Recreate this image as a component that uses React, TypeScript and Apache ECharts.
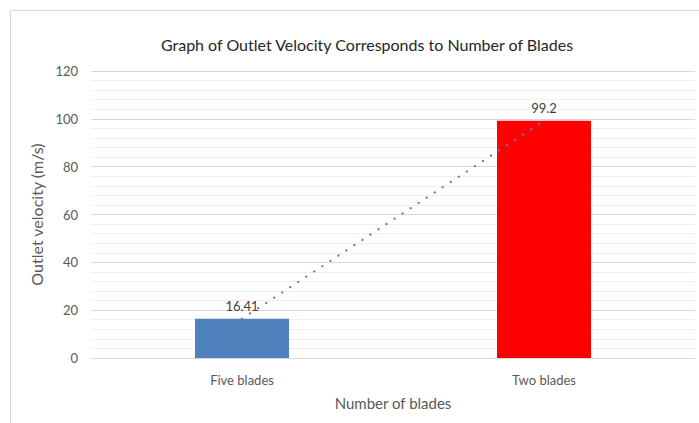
import React, { useEffect, useRef } from "react";
import * as echarts from "echarts";

const categories = ["Five blades", "Two blades"];
const velocities = [16.41, 99.2];
const barColors = ["#4F81BD", "#FF0000"];
const titleText = "Graph of Outlet Velocity Corresponds to Number of Blades";
const yAxisName = "Outlet velocity (m/s)";
const xAxisName = "Number of blades";

const FONT = "Lato, 'Open Sans', sans-serif";

export default function App() {
  const ref = useRef<HTMLDivElement>(null);
  useEffect(() => {
    if (!ref.current) return;
    const chart = echarts.init(ref.current, undefined, { renderer: "svg" });
    chart.setOption({
      animation: false,
      backgroundColor: "#ffffff",
      textStyle: { fontFamily: FONT },
      title: {
        text: titleText,
        left: 362,
        textAlign: "center",
        top: 31,
        textStyle: { fontFamily: FONT, fontSize: 16, fontWeight: "normal", color: "#262626" },
      },
      graphic: [
        {
          type: "rect",
          shape: { x: 10.5, y: 10.5, width: 720, height: 440 },
          style: { fill: "none", stroke: "#d9d9d9", lineWidth: 1 },
          silent: true,
          z: -1,
        },
      ],
      grid: { left: 91, right: 4, top: 71, bottom: 65, containLabel: false },
      xAxis: {
        type: "category",
        data: categories,
        name: xAxisName,
        nameLocation: "middle",
        nameGap: 37,
        nameTextStyle: { fontFamily: FONT, fontSize: 15, color: "#595959" },
        axisLine: { lineStyle: { color: "#d9d9d9", width: 1 } },
        axisTick: { show: false },
        axisLabel: { fontFamily: FONT, fontSize: 13, color: "#595959", margin: 15 },
      },
      yAxis: {
        type: "value",
        min: 0,
        max: 120,
        interval: 20,
        name: yAxisName,
        nameLocation: "middle",
        nameGap: 46,
        nameTextStyle: { fontFamily: FONT, fontSize: 16, color: "#595959" },
        axisLine: { show: false },
        axisTick: { show: false },
        axisLabel: { fontFamily: FONT, fontSize: 13, color: "#595959", margin: 13 },
        splitLine: { lineStyle: { color: "#d9d9d9", width: 1 } },
        minorTick: { show: false, splitNumber: 5 },
        minorSplitLine: { show: true, lineStyle: { color: "#efefef", width: 1 } },
      },
      series: [
        {
          type: "bar",
          data: velocities.map((v, i) => ({ value: v, itemStyle: { color: barColors[i] } })),
          barWidth: 94,
          label: {
            show: true,
            position: "top",
            distance: 6,
            fontFamily: FONT,
            fontSize: 13,
            color: "#404040",
          },
          z: 2,
        },
        {
          type: "line",
          data: velocities,
          symbol: "none",
          silent: true,
          lineStyle: { color: "#4F81BD", width: 2.2, type: [0.1, 9.5], cap: "round" },
          z: 3,
        },
      ],
    });
    return () => chart.dispose();
  }, []);
  return (
    <div
      ref={ref}
      style={{ position: "fixed", left: 0, top: 0, width: 699, height: 423 }}
    />
  );
}
